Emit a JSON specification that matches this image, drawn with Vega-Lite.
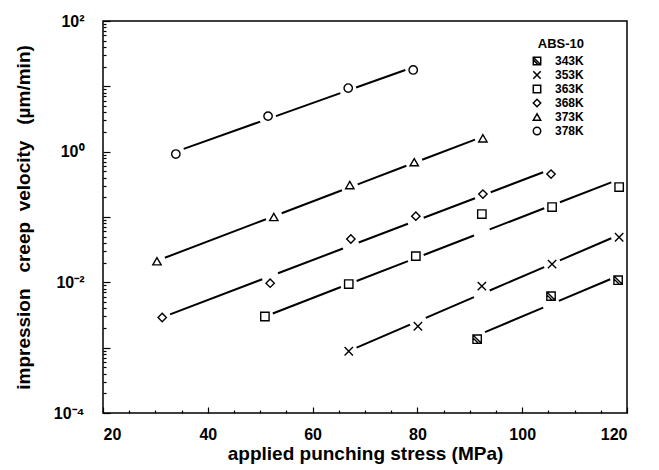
{
  "$schema": "https://vega.github.io/schema/vega-lite/v6.json",
  "width": 524,
  "height": 392,
  "autosize": "none",
  "padding": {"left": 103, "top": 21, "right": 32, "bottom": 57},
  "config": {
    "view": {"stroke": "black", "strokeWidth": 1.5},
    "font": "Liberation Sans",
    "axis": {"grid": false, "domain": false, "tickColor": "black", "labelColor": "black", "titleColor": "black", "tickWidth": 1.2}
  },
  "datasets": {
    "points": [
      {"stress": 91.4, "velocity": 0.00135, "temp": "343K"},
      {"stress": 105.5, "velocity": 0.00615, "temp": "343K"},
      {"stress": 118.3, "velocity": 0.0108, "temp": "343K"},
      {"stress": 66.9, "velocity": 0.00088, "temp": "353K"},
      {"stress": 80.1, "velocity": 0.00213, "temp": "353K"},
      {"stress": 92.3, "velocity": 0.00875, "temp": "353K"},
      {"stress": 105.7, "velocity": 0.019, "temp": "353K"},
      {"stress": 118.5, "velocity": 0.049, "temp": "353K"},
      {"stress": 50.9, "velocity": 0.0030, "temp": "363K"},
      {"stress": 66.9, "velocity": 0.0094, "temp": "363K"},
      {"stress": 79.7, "velocity": 0.0252, "temp": "363K"},
      {"stress": 92.3, "velocity": 0.111, "temp": "363K"},
      {"stress": 105.7, "velocity": 0.142, "temp": "363K"},
      {"stress": 118.5, "velocity": 0.287, "temp": "363K"},
      {"stress": 31.3, "velocity": 0.0029, "temp": "368K"},
      {"stress": 51.9, "velocity": 0.0097, "temp": "368K"},
      {"stress": 67.3, "velocity": 0.046, "temp": "368K"},
      {"stress": 79.7, "velocity": 0.103, "temp": "368K"},
      {"stress": 92.5, "velocity": 0.224, "temp": "368K"},
      {"stress": 105.5, "velocity": 0.454, "temp": "368K"},
      {"stress": 30.3, "velocity": 0.021, "temp": "373K"},
      {"stress": 52.6, "velocity": 0.1, "temp": "373K"},
      {"stress": 67.1, "velocity": 0.308, "temp": "373K"},
      {"stress": 79.4, "velocity": 0.69, "temp": "373K"},
      {"stress": 92.5, "velocity": 1.6, "temp": "373K"},
      {"stress": 33.9, "velocity": 0.92, "temp": "378K"},
      {"stress": 51.5, "velocity": 3.5, "temp": "378K"},
      {"stress": 66.8, "velocity": 9.4, "temp": "378K"},
      {"stress": 79.2, "velocity": 17.8, "temp": "378K"}
    ],
    "segments": [
      {"temp": "343K", "stress": 92.9, "velocity": 0.0017315, "stress_end": 104.0, "velocity_end": 0.004111},
      {"temp": "343K", "stress": 107.0, "velocity": 0.0051936, "stress_end": 116.8, "velocity_end": 0.011148},
      {"temp": "353K", "stress": 68.4, "velocity": 0.0010035, "stress_end": 78.6, "velocity_end": 0.0022524},
      {"temp": "353K", "stress": 81.6, "velocity": 0.0028561, "stress_end": 90.8, "velocity_end": 0.0059238},
      {"temp": "353K", "stress": 93.8, "velocity": 0.0075094, "stress_end": 104.2, "velocity_end": 0.017127},
      {"temp": "353K", "stress": 107.2, "velocity": 0.021726, "stress_end": 117.0, "velocity_end": 0.047222},
      {"temp": "363K", "stress": 52.4, "velocity": 0.00334, "stress_end": 65.4, "velocity_end": 0.008467},
      {"temp": "363K", "stress": 68.4, "velocity": 0.010487, "stress_end": 78.2, "velocity_end": 0.021153},
      {"temp": "363K", "stress": 81.2, "velocity": 0.026218, "stress_end": 90.8, "velocity_end": 0.0521},
      {"temp": "363K", "stress": 93.8, "velocity": 0.064573, "stress_end": 104.2, "velocity_end": 0.13587},
      {"temp": "363K", "stress": 107.2, "velocity": 0.16838, "stress_end": 117.0, "velocity_end": 0.33963},
      {"temp": "368K", "stress": 32.8, "velocity": 0.003233, "stress_end": 50.4, "velocity_end": 0.011149},
      {"temp": "368K", "stress": 53.4, "velocity": 0.013764, "stress_end": 65.8, "velocity_end": 0.032936},
      {"temp": "368K", "stress": 68.8, "velocity": 0.04066, "stress_end": 78.2, "velocity_end": 0.07875},
      {"temp": "368K", "stress": 81.2, "velocity": 0.097238, "stress_end": 91.0, "velocity_end": 0.19374},
      {"temp": "368K", "stress": 94.0, "velocity": 0.23916, "stress_end": 104.0, "velocity_end": 0.48313},
      {"temp": "373K", "stress": 31.8, "velocity": 0.02378, "stress_end": 51.1, "velocity_end": 0.09242},
      {"temp": "373K", "stress": 54.1, "velocity": 0.11414, "stress_end": 65.6, "velocity_end": 0.25631},
      {"temp": "373K", "stress": 68.6, "velocity": 0.31648, "stress_end": 77.9, "velocity_end": 0.60887},
      {"temp": "373K", "stress": 80.9, "velocity": 0.75165, "stress_end": 91.0, "velocity_end": 1.5297},
      {"temp": "378K", "stress": 35.4, "velocity": 1.1036, "stress_end": 50.0, "velocity_end": 2.88},
      {"temp": "378K", "stress": 53.0, "velocity": 3.5066, "stress_end": 65.3, "velocity_end": 7.8664},
      {"temp": "378K", "stress": 68.3, "velocity": 9.58, "stress_end": 77.7, "velocity_end": 17.769}
    ]
  },
  "layer": [
    {
      "data": {"name": "segments"},
      "mark": {"type": "rule", "color": "black", "strokeWidth": 2},
      "encoding": {
        "x": {"field": "stress", "type": "quantitative", "scale": {"domain": [20, 120], "nice": false, "zero": false},
          "axis": {"orient": "bottom", "values": [20, 40, 60, 80, 100, 120], "tickSize": -6, "labelFontSize": 16, "labelFontWeight": "bold", "labelPadding": 19, "title": "applied punching stress (MPa)", "titleFontSize": 19, "titleFontWeight": "bold", "titlePadding": 2}},
        "y": {"field": "velocity", "type": "quantitative", "scale": {"type": "log", "domain": [0.0001, 100], "nice": false},
          "axis": {"orient": "left", "values": [0.0001, 0.001, 0.01, 0.1, 1, 10, 100], "tickSize": -7, "labelExpr": "datum.value == 100 ? '10²' : datum.value == 1 ? '10⁰' : datum.value == 0.01 ? '10⁻²' : datum.value == 0.0001 ? '10⁻⁴' : ''", "labelFontSize": 16, "labelFontWeight": "bold", "labelPadding": 26, "title": "impression\u00a0\u00a0\u00a0creep\u00a0\u00a0velocity\u00a0\u00a0\u00a0(µm/min)", "titleFontSize": 19, "titleFontWeight": "bold", "titlePadding": 20}},
        "x2": {"field": "stress_end"},
        "y2": {"field": "velocity_end"}
      }
    },
    {
      "data": {"name": "points"},
      "mark": {"type": "point", "filled": false, "color": "black", "strokeWidth": 1.4, "opacity": 1, "size": 70},
      "encoding": {
        "x": {"field": "stress", "type": "quantitative",
          "axis": {"orient": "bottom", "values": [25, 30, 35, 45, 50, 55, 65, 70, 75, 85, 90, 95, 105, 110, 115], "tickSize": -3, "labels": false, "title": null}},
        "y": {"field": "velocity", "type": "quantitative",
          "axis": {"orient": "left", "values": [0.0002, 0.0003, 0.0004, 0.0005, 0.0006, 0.0007, 0.0008, 0.0009, 0.002, 0.003, 0.004, 0.005, 0.006, 0.007, 0.008, 0.009, 0.02, 0.03, 0.04, 0.05, 0.06, 0.07, 0.08, 0.09, 0.2, 0.3, 0.4, 0.5, 0.6, 0.7, 0.8, 0.9, 2, 3, 4, 5, 6, 7, 8, 9, 20, 30, 40, 50, 60, 70, 80, 90], "tickSize": -3, "labels": false, "title": null}},
        "shape": {"field": "temp", "type": "nominal",
          "scale": {"domain": ["343K", "353K", "363K", "368K", "373K", "378K"], "range": ["M-1,-1H1V1H-1Z M-1,-1L1,1 M-1,-0.3L0.3,1", "M-1,-1L1,1M-1,1L1,-1", "square", "diamond", "triangle-up", "circle"]},
          "legend": {"orient": "none", "legendX": 428, "legendY": 17, "title": "ABS-10", "titleFontSize": 13, "titleFontWeight": "bold", "titleAnchor": "end", "titlePadding": 4, "labelFontSize": 12, "labelFontWeight": "bold", "labelOffset": 12, "rowPadding": 0, "symbolSize": 55, "symbolStrokeColor": "black", "symbolFillColor": "transparent", "symbolStrokeWidth": 1.5, "labelColor": "black", "titleColor": "black"}}
      }
    }
  ],
  "resolve": {"axis": {"x": "independent", "y": "independent"}}
}
